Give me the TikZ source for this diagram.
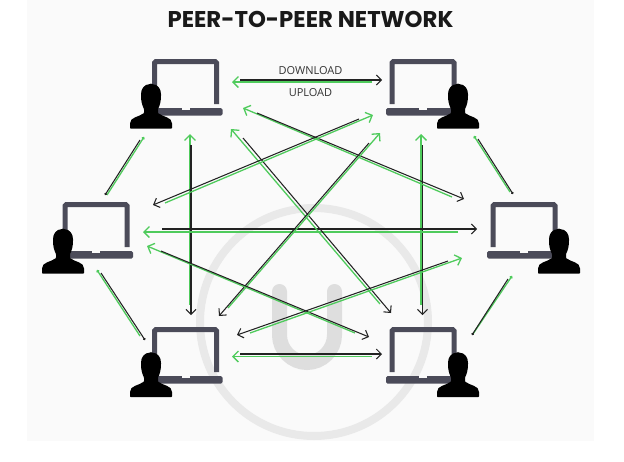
\documentclass[tikz,border=0pt]{standalone}
\usepackage{fontspec}
\setmainfont{Open Sans}
\newfontfamily\titlefont{Poppins}
\usetikzlibrary{arrows.meta}
\definecolor{pane}{HTML}{FAFAFA}
\definecolor{ring}{HTML}{E9E9E9}
\definecolor{wmU}{HTML}{DEDEDE}
\definecolor{lap}{HTML}{4B4B59}
\definecolor{grn}{HTML}{4FCB5C}
\definecolor{blk}{HTML}{222222}
\tikzset{
  x=1pt,y=-1pt,
  dl/.style={blk,line width=1.05pt,-{Straight Barb[length=5pt,width=10pt,line width=1.05pt]}},
  ul/.style={grn,line width=1.3pt,-{Straight Barb[length=5.5pt,width=11pt,line width=1.3pt]}},
  dlshort/.style={blk,line width=1.05pt,-{Circle[length=2.4pt]}},
  ulshort/.style={grn,line width=1.3pt,-{Circle[length=3pt]}},
  caption/.style={inner sep=0pt,font=\fontsize{11}{12}\selectfont,text=black!80},
  laptop/.pic={
    \draw[lap,line width=5pt,rounded corners=1.5pt] (-31,45) -- (-31,2.5) -- (31,2.5) -- (31,45);
    \fill[lap,rounded corners=1.5pt] (-37,49) -- (37,49) -- (37,56.5) -- (-37,56.5) -- cycle;
    \fill[pane] (-4,48.5) rectangle (4,51);
  },
  person/.pic={
    \fill[black,rounded corners=0.6pt] (0,0) .. controls (7,0) and (10,5) .. (10,11)
      .. controls (10,17) and (9,21) .. (7,25) -- (7,29)
      .. controls (12,33) and (21,33) .. (21,40) -- (21,44.5) -- (-21,44.5) -- (-21,40)
      .. controls (-21,33) and (-12,33) .. (-7,29) -- (-7,25)
      .. controls (-9,21) and (-10,17) .. (-10,11)
      .. controls (-10,5) and (-7,0) .. (0,0) -- cycle;
  }
}
\begin{document}
\begin{tikzpicture}
\useasboundingbox (0,0) rectangle (624,461);
\fill[white] (0,0) rectangle (624,461);
\fill[pane] (27,0) rectangle (594,441);
% watermark
\begin{scope}
\clip (27,0) rectangle (594,444);
\draw[ring,line width=8pt] (314,322) circle[radius=114];
\end{scope}
\draw[wmU,line width=15pt,line cap=round] (279.5,291.5) -- (279.5,335)
  .. controls (279.5,350) and (292,362.5) .. (307,362.5)
  .. controls (322,362.5) and (334.5,350) .. (334.5,335) -- (334.5,291.5);
% title and captions
\node[inner sep=0pt,font=\titlefont\bfseries\fontsize{22.8}{24}\selectfont,text=black!90] (title) at (310.5,19.5) {PEER-TO-PEER NETWORK};
\node[caption] (down) at (310.5,71) {DOWNLOAD};
\node[caption] (up) at (310.5,93) {UPLOAD};
% connector ends: name / x1,y1 / x2,y2 for download (black), then upload (green)
\foreach \n/\ax/\ay/\bx/\by/\cx/\cy/\dx/\dy in {
  top/240/80/382/80/372/82/232/82,
  bot/240/354/382/354/372/356.5/232/356.5,
  vl/191/145/191/315/190/305/190/134,
  vr/422.5/145/422.5/315/421/305/421/134,
  mid/162/229/477/229/458/232/143/232,
  ds/243/138/391/313/380/304/231/129,
  da/257/113/464/199/452/197/243/108,
  aa/359/119/153/205/165/203/373/115,
  as/369/143/219/316/228/308/380/133,
  db/161/251/369/337/355/333/147/246,
  ab/448/261/237/335/250/333/462/258}{
  \coordinate (\n-da) at (\ax,\ay);
  \coordinate (\n-db) at (\bx,\by);
  \coordinate (\n-ua) at (\cx,\cy);
  \coordinate (\n-ub) at (\dx,\dy);
  \draw[ul] (\n-ua) -- (\n-ub);
  \draw[dl] (\n-da) -- (\n-db);
}
\foreach \n/\ax/\ay/\bx/\by/\cx/\cy/\dx/\dy in {
  sa/140/140/105/195/107/195/144/137,
  sb/101/273/145/340/140/336/97/270,
  sc/478/139/513/194/510/192/474/136,
  sd/508/279/472/335/473/334/512/276}{
  \coordinate (\n-da) at (\ax,\ay);
  \coordinate (\n-db) at (\bx,\by);
  \coordinate (\n-ua) at (\cx,\cy);
  \coordinate (\n-ub) at (\dx,\dy);
  \draw[ulshort] (\n-ua) -- (\n-ub);
  \draw[dlshort] (\n-da) -- (\n-db);
}
% peers
\foreach \n/\lx/\ly/\px/\py in {
  tl/185.5/59/151/84,
  tr/423/59/458/84,
  ml/96/202/63/229,
  mr/524/202/559/229,
  bl/185.5/327/151/352.5,
  br/423/327/458/352.5}{
  \pic (\n-lap) at (\lx,\ly) {laptop};
  \pic (\n-per) at (\px,\py) {person};
}
\end{tikzpicture}
\end{document}
